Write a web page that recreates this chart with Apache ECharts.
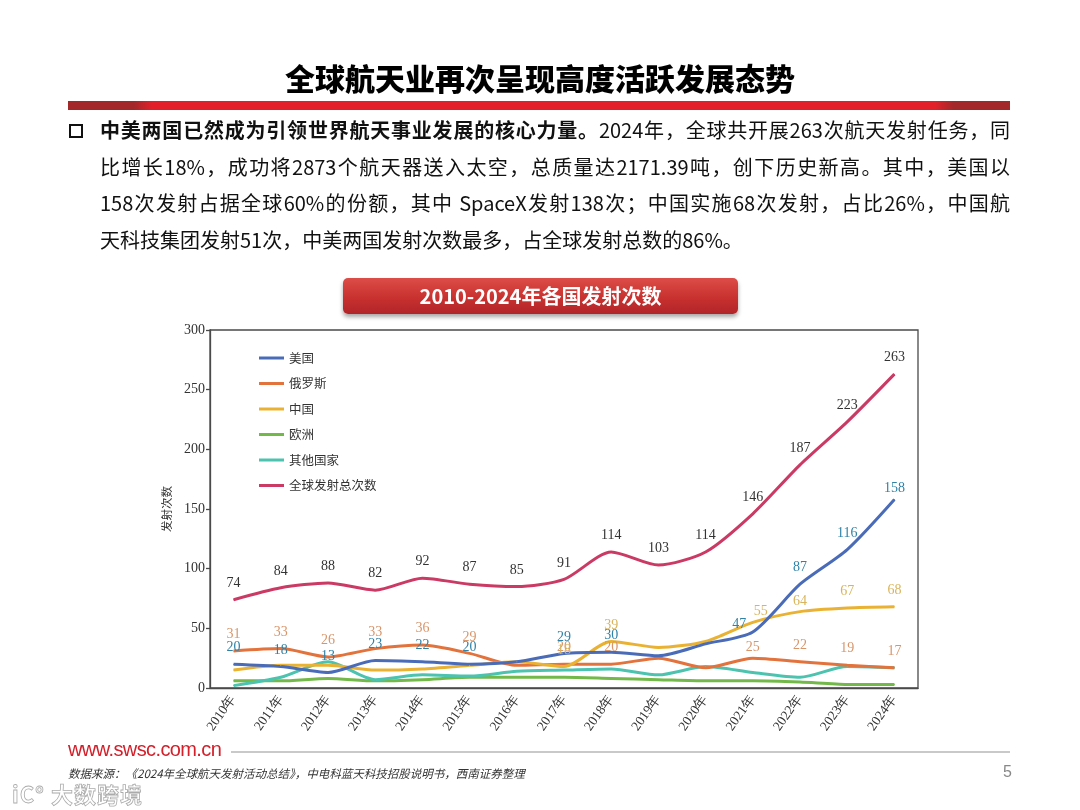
<!DOCTYPE html>
<html>
<head>
<meta charset="utf-8">
<script src="https://cdn.jsdelivr.net/npm/echarts@6/dist/echarts.min.js"></script>
<style>
  html, body { margin: 0; padding: 0; background: #fff; }
  #page { position: relative; width: 1080px; height: 810px; overflow: hidden; background: #fff; font-family: "Noto Sans CJK SC", sans-serif; }
  #chart { position: absolute; left: 0; top: 0; width: 1080px; height: 810px; }
  .abs { position: absolute; }
  #title { left: 0; width: 1080px; top: 56px; text-align: center; font-size: 30px; font-weight: 900; color: #000; line-height: 42px; }
  #bar { left: 68px; top: 101px; width: 942px; height: 9px;
         background: linear-gradient(to right, #a3282a 0%, #a3282a 7%, #e3202a 9%, #e3202a 92%, #a3282a 94%, #a3282a 100%); }
  #bullet { left: 69px; top: 124px; width: 10px; height: 10px; border: 2px solid #111; }
  #para { left: 100px; top: 112px; width: 910px; font-size: 20px; color: #111; }
  #para .ln { height: 36.5px; line-height: 36.5px; white-space: nowrap; text-align: justify; text-align-last: justify; }
  #para .ln.last { text-align-last: left; }
  #banner { left: 343px; top: 278px; width: 395px; height: 36px; border-radius: 5px;
            background: linear-gradient(to bottom, #dd4d48 0%, #c8312f 55%, #b1252a 100%);
            box-shadow: 0 3px 4px rgba(0,0,0,0.35); color: #fff; font-weight: bold; font-size: 20px;
            text-align: center; line-height: 36px; }
  #site { left: 68px; top: 738px; font-family: "Liberation Sans", Arial, sans-serif; font-size: 20px; color: #d3202a; letter-spacing: -0.6px; }
  #rule { left: 231px; top: 751px; width: 779px; height: 2px; background: #c9c9c9; }
  #src { left: 68px; top: 765px; font-size: 11.5px; font-style: italic; color: #333; }
  #pnum { left: 1003px; top: 763px; font-size: 16px; color: #888; font-family: "Liberation Sans", sans-serif; }
  #wm { left: 12px; top: 777px; font-size: 22px; color: rgba(255,255,255,0.9); -webkit-text-stroke: 0.8px rgba(150,150,150,0.8); font-weight: bold; letter-spacing: 1px; }
</style>
</head>
<body>
<div id="page">
  <div id="chart"></div>
  <div id="title" class="abs">全球航天业再次呈现高度活跃发展态势</div>
  <div id="bar" class="abs"></div>
  <div id="bullet" class="abs"></div>
  <div id="para" class="abs">
    <div class="ln"><b>中美两国已然成为引领世界航天事业发展的核心力量。</b>2024年，全球共开展263次航天发射任务，同</div>
    <div class="ln">比增长18%，成功将2873个航天器送入太空，总质量达2171.39吨，创下历史新高。其中，美国以</div>
    <div class="ln">158次发射占据全球60%的份额，其中 SpaceX发射138次；中国实施68次发射，占比26%，中国航</div>
    <div class="ln last">天科技集团发射51次，中美两国发射次数最多，占全球发射总数的86%。</div>
  </div>
  <div id="banner" class="abs">2010-2024年各国发射次数</div>
  <div id="site" class="abs">www.swsc.com.cn</div>
  <div id="rule" class="abs"></div>
  <div id="src" class="abs">数据来源：《2024年全球航天发射活动总结》，中电科蓝天科技招股说明书，西南证券整理</div>
  <div id="pnum" class="abs">5</div>
  <div id="wm" class="abs">iC° 大数跨境</div>
</div>
<script>
// ---- data ----
const years = ["2010年","2011年","2012年","2013年","2014年","2015年","2016年","2017年","2018年","2019年","2020年","2021年","2022年","2023年","2024年"];
const usa    = [20, 18, 13, 23, 22, 20, 22, 29, 30, 27, 37, 47, 87, 116, 158];
const russia = [31, 33, 26, 33, 36, 29, 19, 20, 20, 25, 17, 25, 22, 19, 17];
const china  = [15, 19, 19, 15, 16, 19, 22, 18, 39, 34, 39, 55, 64, 67, 68];
const europe = [6, 6, 8, 6, 7, 9, 9, 9, 8, 7, 6, 6, 5, 3, 3];
const others = [2, 9, 22, 7, 11, 10, 14, 15, 16, 11, 18, 13, 9, 18, 17];
const global = [74, 84, 88, 82, 92, 87, 85, 91, 114, 103, 114, 146, 187, 223, 263];
const yTicks = { min: 0, max: 300, interval: 50 };

// which points carry a value label in the reference
const usLabeled = [0,1,2,3,4,5,7,8,11,12,13,14];
const ruLabeled = [0,1,2,3,4,5,7,8,11,12,13,14];
const cnLabeled = [7,8,11,12,13,14];

function items(arr, labeled, overrides) {
  return arr.map((v, i) => {
    const it = { value: v, label: { show: labeled === 'all' || labeled.indexOf(i) >= 0 } };
    if (overrides && overrides[i]) Object.assign(it.label, overrides[i]);
    return it;
  });
}

const serif = '"Liberation Serif", "DejaVu Serif", serif';
const sans = '"Noto Sans CJK SC", sans-serif';

function lineSeries(name, color, data, labelColor) {
  return {
    name, type: 'line', data, symbol: 'circle', symbolSize: 1, showSymbol: true, smooth: 0.25,
    lineStyle: { width: 3, color }, itemStyle: { color },
    label: { show: false, position: 'top', distance: 9, color: labelColor, fontFamily: serif, fontSize: 14 },
    emphasis: { disabled: true }
  };
}

const chart = echarts.init(document.getElementById('chart'), null, { renderer: 'canvas' });
chart.setOption({
  animation: false,
  grid: { left: 210, right: 162, top: 330, bottom: 122, show: true, borderColor: '#4a4a4a', borderWidth: 1.3, backgroundColor: 'transparent' },
  legend: {
    orient: 'vertical', left: 259, top: 350, icon: 'rect', itemWidth: 25, itemHeight: 3, itemGap: 9.5, padding: 0,
    textStyle: { fontSize: 12.5, fontFamily: sans, color: '#333', lineHeight: 16 },
    data: ['美国','俄罗斯','中国','欧洲','其他国家','全球发射总次数']
  },
  xAxis: {
    type: 'category', data: years, boundaryGap: true,
    axisLine: { lineStyle: { color: '#4a4a4a', width: 1.3 } },
    axisTick: { inside: true, length: 5, lineStyle: { color: '#4a4a4a', width: 1.3 } },
    axisLabel: { rotate: 55, fontFamily: serif, fontSize: 13.5, color: '#333', margin: 8, interval: 0 },
    splitLine: { show: false }
  },
  yAxis: {
    type: 'value', min: yTicks.min, max: yTicks.max, interval: yTicks.interval,
    name: '发射次数', nameLocation: 'middle', nameGap: 38,
    nameTextStyle: { fontSize: 11.5, fontFamily: sans, color: '#333' },
    axisLine: { show: true, lineStyle: { color: '#4a4a4a', width: 1.3 } },
    axisTick: { show: true, inside: false, length: 4, lineStyle: { color: '#4a4a4a', width: 1.3 } },
    axisLabel: { fontFamily: serif, fontSize: 14, color: '#333', margin: 5 },
    splitLine: { show: false }
  },
  series: [
    lineSeries('欧洲', '#72b94a', items(europe, []), '#72b94a'),
    lineSeries('其他国家', '#4cc3ae', items(others, []), '#4cc3ae'),
    lineSeries('俄罗斯', '#e3733c', items(russia, ruLabeled, { 11: { distance: 3 } }), '#d9956a'),
    lineSeries('中国', '#e9b232', items(china, cnLabeled, { 11: { distance: 4, offset: [8, 0] }, 12: { distance: 3 } }), '#d9b45c'),
    lineSeries('美国', '#4a6cb8', items(usa, usLabeled, { 11: { position: 'left', distance: 6, offset: [0, -8] }, 14: { distance: 4 } }), '#2f82a6'),
    lineSeries('全球发射总次数', '#cb3a64', items(global, 'all'), '#333')
  ]
});
</script>
</body>
</html>
